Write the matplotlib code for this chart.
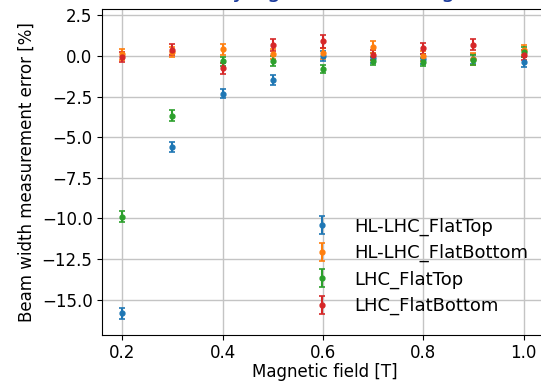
import matplotlib.pyplot as plt

# magnetic field values [T]
field = [0.2, 0.3, 0.4, 0.5, 0.6, 0.7, 0.8, 0.9, 1.0]

hl_flattop = [-15.85, -5.62, -2.31, -1.48, 0.0, -0.10, -0.20, -0.20, -0.35]
hl_flattop_err = [0.33, 0.30, 0.30, 0.30, 0.30, 0.30, 0.30, 0.30, 0.30]

hl_flatbottom = [0.10, 0.25, 0.42, 0.12, 0.16, 0.55, 0.00, -0.17, 0.37]
hl_flatbottom_err = [0.33, 0.33, 0.35, 0.30, 0.35, 0.35, 0.30, 0.35, 0.30]

lhc_flattop = [-9.90, -3.67, -0.33, -0.31, -0.82, -0.28, -0.35, -0.22, 0.24]
lhc_flattop_err = [0.33, 0.33, 0.30, 0.30, 0.25, 0.25, 0.25, 0.30, 0.30]

lhc_flatbottom = [-0.05, 0.40, -0.75, 0.68, 0.90, 0.05, 0.47, 0.70, 0.08]
lhc_flatbottom_err = [0.30, 0.33, 0.35, 0.35, 0.40, 0.30, 0.35, 0.35, 0.30]

series = [
    ("HL-LHC_FlatTop", hl_flattop, hl_flattop_err, "tab:blue"),
    ("HL-LHC_FlatBottom", hl_flatbottom, hl_flatbottom_err, "tab:orange"),
    ("LHC_FlatTop", lhc_flattop, lhc_flattop_err, "tab:green"),
    ("LHC_FlatBottom", lhc_flatbottom, lhc_flatbottom_err, "tab:red"),
]

plt.rcParams["font.size"] = 12

fig = plt.figure(figsize=(5.41, 3.81), dpi=100)
ax = fig.add_axes([0.189, 0.120, 0.823, 0.8564])

for label, values, errors, color in series:
    ax.errorbar(
        field,
        values,
        yerr=errors,
        fmt="o",
        markersize=3.5,
        capsize=2,
        elinewidth=1.5,
        capthick=1.2,
        color=color,
        label=label,
    )

# right edge of the axes falls just outside the cropped picture
ax.set_xlim(0.16, 1.0477)
ax.set_ylim(-17.2, 2.9)
ax.set_xticks([0.2, 0.4, 0.6, 0.8, 1.0])
ax.set_yticks([2.5, 0.0, -2.5, -5.0, -7.5, -10.0, -12.5, -15.0])
ax.tick_params(axis="x", pad=2.5)
ax.grid(True, color="#c4c4c4", linewidth=1.0)
ax.set_axisbelow(True)
ax.set_xlabel("Magnetic field [T]", labelpad=1)
ax.set_ylabel("Beam width measurement error [%]")
ax.legend(loc="lower right", frameon=False, fontsize=13, labelspacing=0.456,
          bbox_to_anchor=(0.994, 0.011))

# title mostly cropped off the top, only descenders show
fig.text(132.5 / 541, 1 + 2.5 / 381, "Error varying the beam length",
         fontsize=16.5, color="#1a3a9c", ha="left", va="baseline")

fig.savefig("out.png", dpi=100)
